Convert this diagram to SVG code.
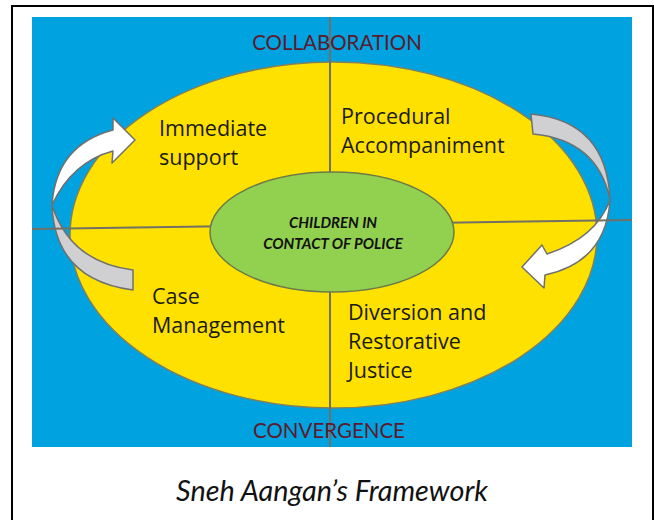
<svg xmlns="http://www.w3.org/2000/svg" width="654" height="520" viewBox="0 0 654 520">
  <style>
    .frame { fill: none; stroke: #000; stroke-width: 2; }
    .divider { stroke: #707064; stroke-width: 2; fill: none; }
    .label { font-family: "Open Sans", Lato, sans-serif; font-size: 21.5px; fill: #1a1a1a; }
    .axis { font-family: Lato, "Open Sans", sans-serif; font-size: 20.5px; fill: #5c1a2c; text-anchor: middle; }
    .core { font-family: Lato, "Open Sans", sans-serif; font-size: 15px; font-weight: bold; font-style: italic; fill: #111; text-anchor: middle; }
    .caption { font-family: Lato, "Open Sans", sans-serif; font-size: 28.8px; font-style: italic; fill: #111; text-anchor: middle; }
    .arrow-front { fill: #ffffff; stroke: #707070; stroke-width: 1.5; stroke-linejoin: round; }
    .arrow-back { fill: #d0d0d2; stroke: #707070; stroke-width: 1.5; stroke-linejoin: round; }
  </style>

  <!-- page frame -->
  <path class="frame" d="M12,520 V6 H653 V520"/>

  <!-- background panel -->
  <rect id="panel" x="32" y="17" width="600" height="430" fill="#00A3E0"/>

  <!-- outer framework ellipse -->
  <g id="framework">
    <ellipse cx="333.5" cy="235" rx="263.5" ry="173" fill="#FFE100" stroke="#80805c" stroke-width="1.5"/>
  </g>

  <!-- cycle arrows -->
  <g id="arrow-left">
    <path class="arrow-back" d="M52,205 Q55,280 133,290 L133,270 Q70,262 52,205 Z"/>
    <path class="arrow-front" d="M52,205 Q56,145 113,130 L113,118 L135,140 L112,163 L113,151 Q72,162 52,205 Z"/>
  </g>
  <g id="arrow-right">
    <path class="arrow-back" d="M531,114 Q607,121 610,200 Q598,140 533,134 Z"/>
    <path class="arrow-front" d="M610,200 Q606,262 545,275 L544,288 L522,267 L542,245 L547,254 Q596,238 610,200 Z"/>
  </g>

  <!-- quadrant dividers -->
  <g id="connectors">
    <line class="divider" x1="330" y1="17" x2="330" y2="447"/>
    <line class="divider" x1="32" y1="229" x2="632" y2="220"/>
  </g>

  <!-- centre node -->
  <g id="centre">
    <ellipse cx="332" cy="232" rx="122" ry="60" fill="#92D050" stroke="#6b7a48" stroke-width="1.5"/>
    <text class="core" x="333" y="228">CHILDREN IN</text>
    <text class="core" x="333" y="249">CONTACT OF POLICE</text>
  </g>

  <!-- quadrant labels -->
  <g id="immediate-support">
    <text class="label" x="159" y="136">Immediate</text>
    <text class="label" x="159" y="165">support</text>
  </g>
  <g id="procedural-accompaniment">
    <text class="label" x="341" y="124">Procedural</text>
    <text class="label" x="341" y="153">Accompaniment</text>
  </g>
  <g id="case-management">
    <text class="label" x="152" y="304">Case</text>
    <text class="label" x="152" y="333">Management</text>
  </g>
  <g id="diversion">
    <text class="label" x="348" y="320">Diversion and</text>
    <text class="label" x="348" y="349">Restorative</text>
    <text class="label" x="348" y="378">Justice</text>
  </g>

  <!-- axis titles -->
  <g id="collaboration">
    <text class="axis" x="337" y="50">COLLABORATION</text>
  </g>
  <g id="convergence">
    <text class="axis" x="329" y="438">CONVERGENCE</text>
  </g>

  <!-- caption -->
  <text class="caption" x="332" y="501">Sneh Aangan’s Framework</text>
</svg>
